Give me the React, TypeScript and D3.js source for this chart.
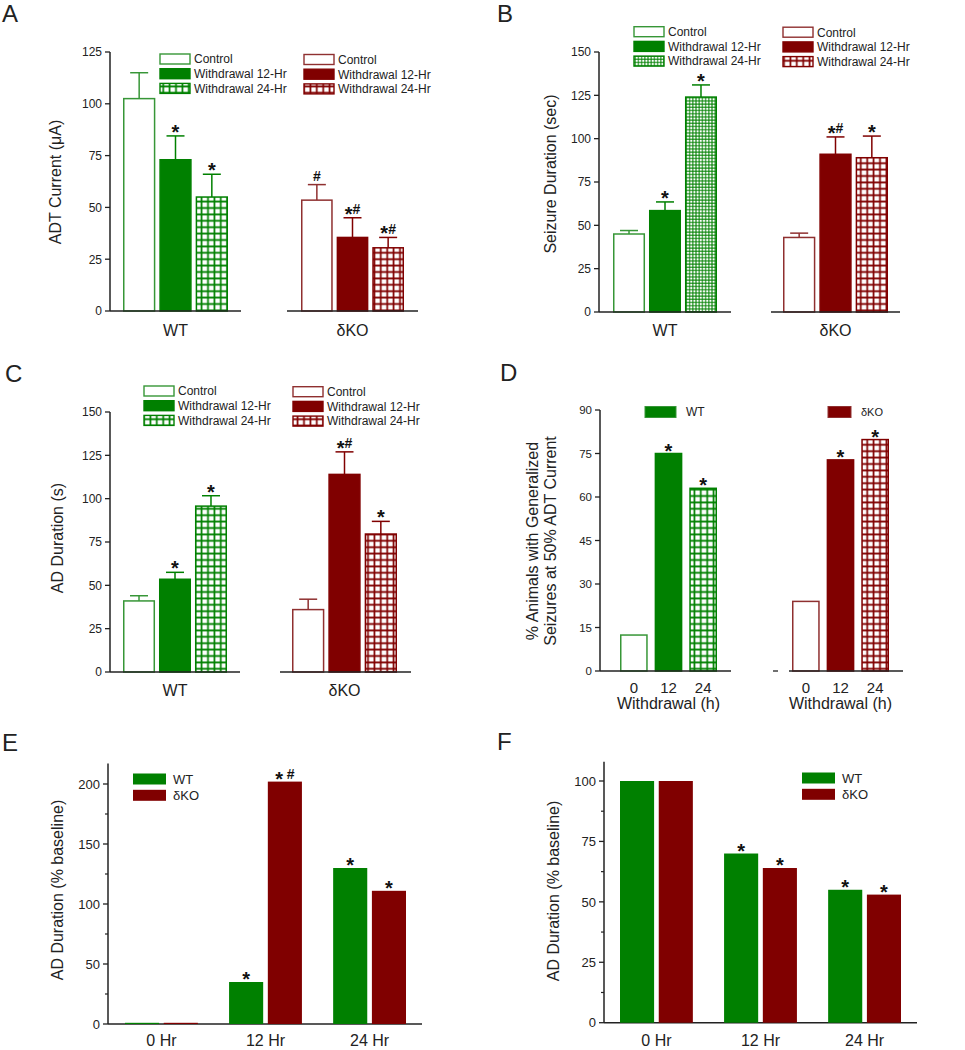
import React from "react";
import * as d3 from "d3";

const GREEN = "#008000";
const RED = "#800000";
const GREEN_EDGE = "#379637";
const RED_EDGE = "#8f3030";
const INK = "#222";
const FONT = "'Liberation Sans', Arial, Helvetica, sans-serif";

// ---------- data ----------
const groupNames = ["WT", "δKO"];
const conditions = ["Control", "Withdrawal 12-Hr", "Withdrawal 24-Hr"];

// Panel A: ADT Current (μA)
const aTicks = [0, 25, 50, 75, 100, 125];
const aWTMean = [102.5, 73, 55];
const aWTSem = [12.5, 11.5, 11];
const aWTMarks = ["", "*", "*"];
const aKOMean = [53.5, 35.5, 30.5];
const aKOSem = [7.5, 9.5, 5];
const aKOMarks = ["#", "*#", "*#"];

// Panel B: Seizure Duration (sec)
const bTicks = [0, 25, 50, 75, 100, 125, 150];
const bWTMean = [45, 58.5, 124];
const bWTSem = [2, 5, 7];
const bWTMarks = ["", "*", "*"];
const bKOMean = [43, 91, 89];
const bKOSem = [2.5, 10, 12.5];
const bKOMarks = ["", "*#", "*"];

// Panel C: AD Duration (s)
const cTicks = [0, 25, 50, 75, 100, 125, 150];
const cWTMean = [41, 53.5, 95.7];
const cWTSem = [3, 4, 6];
const cWTMarks = ["", "*", "*"];
const cKOMean = [36, 114, 79.6];
const cKOSem = [6, 13, 7.3];
const cKOMarks = ["", "*#", "*"];

// Panel D: % animals with generalized seizures
const dHours = ["0", "12", "24"];
const dTicks = [0, 15, 30, 45, 60, 75, 90];
const dWT = [12.4, 75, 63];
const dKO = [24, 72.8, 79.8];
const dMarks = ["", "*", "*"];

// Panel E: AD Duration (% baseline)
const eTimes = ["0 Hr", "12 Hr", "24 Hr"];
const eTicks = [0, 50, 100, 150, 200];
const eWT = [1, 35, 130];
const eKO = [1, 202, 111];
const eWTMarks = ["", "*", "*"];
const eKOMarks = ["", "* #", "*"];

// Panel F: AD Duration (% baseline)
const fTicks = [0, 25, 50, 75, 100];
const fWT = [100, 70, 55];
const fKO = [100, 64, 53];
const fWTMarks = ["", "*", "*"];
const fKOMarks = ["", "*", "*"];

// ---------- helpers ----------
type Series = { mean: number[]; sem?: number[]; marks: string[] };

// top = pixel of the error cap / bar top
function Mark({ x, top, text }: { x: number; top: number; text: string }) {
  if (!text) return null;
  const base = top - 3.5;
  const starSize = 20;
  const starShift = 6.5;
  let prev = 0;
  return (
    <text x={x} y={base} textAnchor="middle" fontSize={14} fontWeight="bold" fontFamily={FONT} fill="#111">
      {text.split("").map((c, i) => {
        const shift = c === "*" ? starShift : 0;
        const dy = shift - prev;
        prev = shift;
        return (
          <tspan key={i} dy={dy} fontSize={c === "*" ? starSize : 14}>
            {c}
          </tspan>
        );
      })}
    </text>
  );
}

function Letter({ x, y, t }: { x: number; y: number; t: string }) {
  return (
    <text x={x} y={y} fontSize={24} fontFamily={FONT} fill={INK}>
      {t}
    </text>
  );
}

function YAxis({
  y,
  ticks,
  x,
  top,
  fontSize = 12,
  minor = [],
}: {
  y: d3.ScaleLinear<number, number>;
  ticks: number[];
  x: number;
  top: number;
  fontSize?: number;
  minor?: number[];
}) {
  return (
    <g>
      <line x1={x} x2={x} y1={y(0)} y2={y(top)} stroke={INK} strokeWidth={1.5} />
      {ticks.map((t) => (
        <g key={t}>
          <line x1={x - 5} x2={x} y1={y(t)} y2={y(t)} stroke={INK} strokeWidth={1.3} />
          <text
            x={x - 8}
            y={y(t) + fontSize * 0.36}
            textAnchor="end"
            fontSize={fontSize}
            fontFamily={FONT}
            fill={INK}
          >
            {t}
          </text>
        </g>
      ))}
      {minor.map((t) => (
        <line key={"m" + t} x1={x - 3} x2={x} y1={y(t)} y2={y(t)} stroke={INK} strokeWidth={1.2} />
      ))}
    </g>
  );
}

function RotLabel({ x, y, lines, size = 16 }: { x: number; y: number; lines: string[]; size?: number }) {
  return (
    <g>
      {lines.map((l, i) => (
        <text
          key={i}
          transform={`translate(${x + i * 18},${y}) rotate(-90)`}
          textAnchor="middle"
          fontSize={size}
          fontFamily={FONT}
          fill={INK}
        >
          {l}
        </text>
      ))}
    </g>
  );
}

type CondGroup = {
  name: string;
  axis: [number, number];
  bars: [number, number];
  legendX: number;
  legendY: number;
  color: string;
  edge: string;
  pattern: string;
  s: Series;
};

function fillFor(i: number, g: { color: string; pattern: string }) {
  return i === 0 ? "white" : i === 1 ? g.color : `url(#${g.pattern})`;
}
function strokeFor(i: number, g: { color: string; edge: string }) {
  return i === 0 ? g.edge : g.color;
}

function ConditionPanel(p: {
  ticks: number[];
  yRange: [number, number];
  axisX: number;
  yLabel: string;
  yLabelX: number;
  yLabelY: number;
  groupLabelY: number;
  groups: CondGroup[];
}) {
  const y = d3.scaleLinear().domain([0, d3.max(p.ticks)!]).range(p.yRange);
  return (
    <g>
      <YAxis y={y} ticks={p.ticks} x={p.axisX} top={d3.max(p.ticks)!} />
      <RotLabel x={p.yLabelX} y={p.yLabelY} lines={[p.yLabel]} />
      {p.groups.map((g) => {
        const x = d3.scaleBand<string>().domain(conditions).range(g.bars).paddingInner(0.11);
        const bw = x.bandwidth();
        const center = (g.bars[0] + g.bars[1]) / 2;
        return (
          <g key={g.name}>
            {conditions.map((c, i) => {
              const m = g.s.mean[i];
              const e = g.s.sem ? g.s.sem[i] : 0;
              const cx = x(c)! + bw / 2;
              const col = strokeFor(i, g);
              return (
                <g key={c}>
                  <line x1={cx} x2={cx} y1={y(m)} y2={y(m + e)} stroke={col} strokeWidth={1.5} />
                  <line x1={cx - 9} x2={cx + 9} y1={y(m + e)} y2={y(m + e)} stroke={col} strokeWidth={1.5} />
                  <rect
                    x={x(c)! + 0.75}
                    width={bw - 1.5}
                    y={y(m)}
                    height={y(0) - y(m)}
                    fill={fillFor(i, g)}
                    stroke={col}
                    strokeWidth={1.5}
                  />
                  <Mark x={cx} top={y(m + e)} text={g.s.marks[i]} />
                </g>
              );
            })}
            <line x1={g.axis[0]} x2={g.axis[1]} y1={y(0)} y2={y(0)} stroke={INK} strokeWidth={1.5} />
            <text x={center} y={p.groupLabelY} textAnchor="middle" fontSize={16} fontFamily={FONT} fill={INK}>
              {g.name}
            </text>
            {conditions.map((c, i) => (
              <g key={"lg" + c}>
                <rect
                  x={g.legendX}
                  y={g.legendY + i * 14.7 - 5}
                  width={30}
                  height={10}
                  fill={fillFor(i, g)}
                  stroke={strokeFor(i, g)}
                  strokeWidth={1.4}
                />
                <text
                  x={g.legendX + 34}
                  y={g.legendY + i * 14.7 + 4.3}
                  fontSize={12}
                  fontFamily={FONT}
                  fill={INK}
                >
                  {c}
                </text>
              </g>
            ))}
          </g>
        );
      })}
    </g>
  );
}

function PanelD() {
  const y = d3.scaleLinear().domain([0, 90]).range([671, 410]);
  const groups = [
    { name: "WT", axis: [600, 731], bars: [620, 717], color: GREEN, edge: GREEN_EDGE, pattern: "gridG", vals: dWT, lx: 645, tx: 686, lsize: 12 },
    { name: "δKO", axis: [789, 903], bars: [792, 889], color: RED, edge: RED_EDGE, pattern: "gridR", vals: dKO, lx: 828, tx: 861, lsize: 11 },
  ];
  return (
    <g>
      <YAxis y={y} ticks={dTicks} x={600} top={90} fontSize={11.5} />
      <line x1={773} x2={778} y1={y(0)} y2={y(0)} stroke={INK} strokeWidth={1.3} />
      <RotLabel x={538} y={541} lines={["% Animals with Generalized", "Seizures at 50% ADT Current"]} />
      {groups.map((g) => {
        const x = d3.scaleBand<string>().domain(dHours).range(g.bars as [number, number]).paddingInner(0.2);
        const bw = x.bandwidth();
        return (
          <g key={g.name}>
            {dHours.map((h, i) => {
              const v = g.vals[i];
              const cx = x(h)! + bw / 2;
              return (
                <g key={h}>
                  <rect
                    x={x(h)! + 0.75}
                    width={bw - 1.5}
                    y={y(v)}
                    height={y(0) - y(v)}
                    fill={fillFor(i, g)}
                    stroke={strokeFor(i, g)}
                    strokeWidth={1.5}
                  />
                  <Mark x={cx} top={y(v) + 1} text={dMarks[i]} />
                  <text x={cx} y={693} textAnchor="middle" fontSize={15} fontFamily={FONT} fill={INK}>
                    {h}
                  </text>
                </g>
              );
            })}
            <line x1={g.axis[0]} x2={g.axis[1]} y1={y(0)} y2={y(0)} stroke={INK} strokeWidth={1.5} />
            <text
              x={(g.bars[0] + g.bars[1]) / 2}
              y={709}
              textAnchor="middle"
              fontSize={16}
              fontFamily={FONT}
              fill={INK}
            >
              Withdrawal (h)
            </text>
            <rect x={g.lx} y={406.5} width={g.tx - g.lx - 10} height={11} fill={g.color} stroke={g.edge} strokeWidth={1} />
            <text x={g.tx} y={416} fontSize={g.lsize} fontFamily={FONT} fill={INK}>
              {g.name}
            </text>
          </g>
        );
      })}
    </g>
  );
}

function BaselinePanel(p: {
  ticks: number[];
  minorStep: number;
  top: number;
  yRange: [number, number];
  axisX: number;
  xEnd: number;
  bars: [number, number];
  wt: number[];
  ko: number[];
  wtMarks: string[];
  koMarks: string[];
  yLabelX: number;
  yLabelY: number;
  legendX: number;
  legendY: number;
  xLabelY: number;
}) {
  const y = d3.scaleLinear().domain([0, d3.max(p.ticks)!]).range(p.yRange);
  const outer = d3.scaleBand<string>().domain(eTimes).range(p.bars).paddingInner(0.3);
  const inner = d3.scaleBand<string>().domain(groupNames).range([0, outer.bandwidth()]).paddingInner(0.12);
  const minor = d3.range(0, p.top, p.minorStep).filter((t) => !p.ticks.includes(t));
  const series = [
    { name: "WT", vals: p.wt, marks: p.wtMarks, color: GREEN },
    { name: "δKO", vals: p.ko, marks: p.koMarks, color: RED },
  ];
  return (
    <g>
      <YAxis y={y} ticks={p.ticks} x={p.axisX} top={p.top} fontSize={13} minor={minor} />
      <line x1={p.axisX} x2={p.xEnd} y1={y(0)} y2={y(0)} stroke={INK} strokeWidth={1.5} />
      <RotLabel x={p.yLabelX} y={p.yLabelY} lines={["AD Duration (% baseline)"]} />
      {eTimes.map((t, i) => (
        <g key={t}>
          {series.map((s) => {
            const x0 = outer(t)! + inner(s.name)!;
            const v = s.vals[i];
            return (
              <g key={s.name}>
                <rect x={x0} width={inner.bandwidth()} y={y(v)} height={y(0) - y(v)} fill={s.color} />
                <Mark x={x0 + inner.bandwidth() / 2} top={y(v) + 1} text={s.marks[i]} />
              </g>
            );
          })}
          <text
            x={outer(t)! + outer.bandwidth() / 2}
            y={p.xLabelY}
            textAnchor="middle"
            fontSize={16}
            fontFamily={FONT}
            fill={INK}
          >
            {t}
          </text>
        </g>
      ))}
      {series.map((s, i) => (
        <g key={"lg" + s.name}>
          <rect x={p.legendX} y={p.legendY + i * 16.3 - 5.5} width={33} height={11} fill={s.color} />
          <text x={p.legendX + 40} y={p.legendY + i * 16.3 + 4.7} fontSize={13} fontFamily={FONT} fill={INK}>
            {s.name}
          </text>
        </g>
      ))}
    </g>
  );
}

export default function App() {
  return (
    <svg
      width={965}
      height={1050}
      viewBox="0 0 965 1050"
      style={{ position: "absolute", left: 0, top: 0, background: "white" }}
    >
      <defs>
        <pattern id="gridG" width={6.4} height={6.4} patternUnits="userSpaceOnUse">
          <rect width={6.4} height={6.4} fill="white" />
          <path d="M3.2 0V6.4M0 3.2H6.4" stroke={GREEN} strokeWidth={1.7} fill="none" />
        </pattern>
        <pattern id="gridR" width={6.4} height={6.4} patternUnits="userSpaceOnUse">
          <rect width={6.4} height={6.4} fill="white" />
          <path d="M3.2 0V6.4M0 3.2H6.4" stroke={RED} strokeWidth={1.7} fill="none" />
        </pattern>
        <pattern id="gridGfine" width={3.2} height={3.2} patternUnits="userSpaceOnUse">
          <rect width={3.2} height={3.2} fill="white" />
          <path d="M1.6 0V3.2M0 1.6H3.2" stroke={GREEN} strokeWidth={1} fill="none" />
        </pattern>
      </defs>
      <rect width={965} height={1050} fill="white" />

      {/* Panel A */}
      <Letter x={2} y={22} t="A" />
      <ConditionPanel
        ticks={aTicks}
        yRange={[311, 52]}
        axisX={110}
        yLabel="ADT Current (μA)"
        yLabelX={61}
        yLabelY={182}
        groupLabelY={336}
        groups={[
          { name: "WT", axis: [110, 241], bars: [123, 228], legendX: 160, legendY: 59, color: GREEN, edge: GREEN_EDGE, pattern: "gridG", s: { mean: aWTMean, sem: aWTSem, marks: aWTMarks } },
          { name: "δKO", axis: [287, 418], bars: [301, 404], legendX: 304, legendY: 59.5, color: RED, edge: RED_EDGE, pattern: "gridR", s: { mean: aKOMean, sem: aKOSem, marks: aKOMarks } },
        ]}
      />

      {/* Panel B */}
      <Letter x={497} y={22} t="B" />
      <ConditionPanel
        ticks={bTicks}
        yRange={[312, 52]}
        axisX={599}
        yLabel="Seizure Duration (sec)"
        yLabelX={556}
        yLabelY={174}
        groupLabelY={336}
        groups={[
          { name: "WT", axis: [599, 731], bars: [613, 717], legendX: 634, legendY: 31.7, color: GREEN, edge: GREEN_EDGE, pattern: "gridGfine", s: { mean: bWTMean, sem: bWTSem, marks: bWTMarks } },
          { name: "δKO", axis: [771, 900], bars: [783, 888], legendX: 783, legendY: 32.2, color: RED, edge: RED_EDGE, pattern: "gridR", s: { mean: bKOMean, sem: bKOSem, marks: bKOMarks } },
        ]}
      />

      {/* Panel C */}
      <Letter x={5} y={382} t="C" />
      <ConditionPanel
        ticks={cTicks}
        yRange={[672, 412]}
        axisX={110}
        yLabel="AD Duration (s)"
        yLabelX={63}
        yLabelY={538}
        groupLabelY={696}
        groups={[
          { name: "WT", axis: [110, 240], bars: [123, 227], legendX: 144, legendY: 391, color: GREEN, edge: GREEN_EDGE, pattern: "gridG", s: { mean: cWTMean, sem: cWTSem, marks: cWTMarks } },
          { name: "δKO", axis: [280, 411], bars: [292, 397], legendX: 293, legendY: 391.7, color: RED, edge: RED_EDGE, pattern: "gridR", s: { mean: cKOMean, sem: cKOSem, marks: cKOMarks } },
        ]}
      />

      {/* Panel D */}
      <Letter x={500} y={381} t="D" />
      <PanelD />

      {/* Panel E */}
      <Letter x={2} y={751} t="E" />
      <BaselinePanel
        ticks={eTicks}
        minorStep={25}
        top={217}
        yRange={[1024, 784]}
        axisX={108}
        xEnd={422}
        bars={[125, 406]}
        wt={eWT}
        ko={eKO}
        wtMarks={eWTMarks}
        koMarks={eKOMarks}
        yLabelX={63}
        yLabelY={890}
        legendX={133}
        legendY={779}
        xLabelY={1046}
      />

      {/* Panel F */}
      <Letter x={497} y={750} t="F" />
      <BaselinePanel
        ticks={fTicks}
        minorStep={12.5}
        top={108}
        yRange={[1022.7, 781]}
        axisX={604}
        xEnd={917}
        bars={[620, 901]}
        wt={fWT}
        ko={fKO}
        wtMarks={fWTMarks}
        koMarks={fKOMarks}
        yLabelX={559}
        yLabelY={891}
        legendX={802}
        legendY={778}
        xLabelY={1046}
      />
    </svg>
  );
}
